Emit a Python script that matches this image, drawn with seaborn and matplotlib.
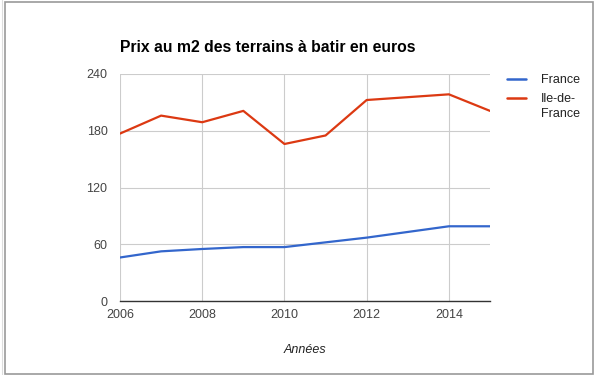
from matplotlib import pyplot as plt
from matplotlib.lines import Line2D
from matplotlib.patches import Rectangle
import seaborn as sns
import pandas as pd

years = [2006, 2007, 2008, 2009, 2010, 2011, 2012, 2013, 2014, 2015]
france = [46, 52.5, 55, 57, 57, 62, 67, 73, 79, 79]
idf = [177, 196, 189, 201, 166, 175, 212.5, 215.5, 218.5, 201]
series = ["France", "Ile-de-France"]
colors = ["#3366cc", "#dc3912"]

df = pd.concat([
    pd.DataFrame({"Année": years, "Prix": france, "Zone": series[0]}),
    pd.DataFrame({"Année": years, "Prix": idf, "Zone": series[1]}),
])

sns.set_style("white")
plt.rcParams['font.family'] = ['Liberation Sans', 'DejaVu Sans']

fig = plt.figure(figsize=(6.06, 3.75), dpi=100)
ax = fig.add_axes([120/606, 1-301/375, 370/606, 227/375])

sns.lineplot(data=df, x="Année", y="Prix", hue="Zone", palette=dict(zip(series, colors)),
             linewidth=1.6, ax=ax, legend=False)

ax.set_xlim(2006, 2015)
ax.set_ylim(0, 240)
ax.set_xticks([2006, 2008, 2010, 2012, 2014])
ax.set_yticks([0, 60, 120, 180, 240])
ax.grid(True, color="#cccccc", linewidth=0.8)
ax.set_axisbelow(True)
for s in ["top", "right", "left"]:
    ax.spines[s].set_visible(False)
ax.spines["bottom"].set_color("#333333")
ax.spines["bottom"].set_linewidth(1.0)
ax.spines["bottom"].set_zorder(5)
ax.tick_params(axis="both", length=0, labelsize=9, colors="#444444")
ax.tick_params(axis="x", pad=6)
ax.tick_params(axis="y", pad=9)
ax.set_xlabel("Années", fontstyle="italic", fontsize=9, color="#222222", labelpad=16)
ax.set_ylabel("")

fig.text(120/606, 1-47/375, "Prix au m2 des terrains à batir en euros", fontsize=11.3,
         fontweight="bold", color="#000000", va="center", ha="left")

# legend
for i, (lab, col, y) in enumerate(zip(["France", "Ile-de-\nFrance"], colors, [79, 98])):
    fig.add_artist(Line2D([507/606, 526/606], [1-y/375, 1-y/375], color=col, linewidth=1.8))
    fig.text(541/606, 1-(y - 5)/375, lab, fontsize=9, color="#222222", va="top", ha="left",
             linespacing=1.35)

# chart border
fig.add_artist(Rectangle((4.5/606, 1-373.5/375), 588/606, 372/375, fill=False,
                         edgecolor="#999999", linewidth=1.2, transform=fig.transFigure))
fig.add_artist(Line2D([2/606, 2/606], [0, 1], color="#dddddd", linewidth=0.8))

plt.savefig("out.png", dpi=100)
